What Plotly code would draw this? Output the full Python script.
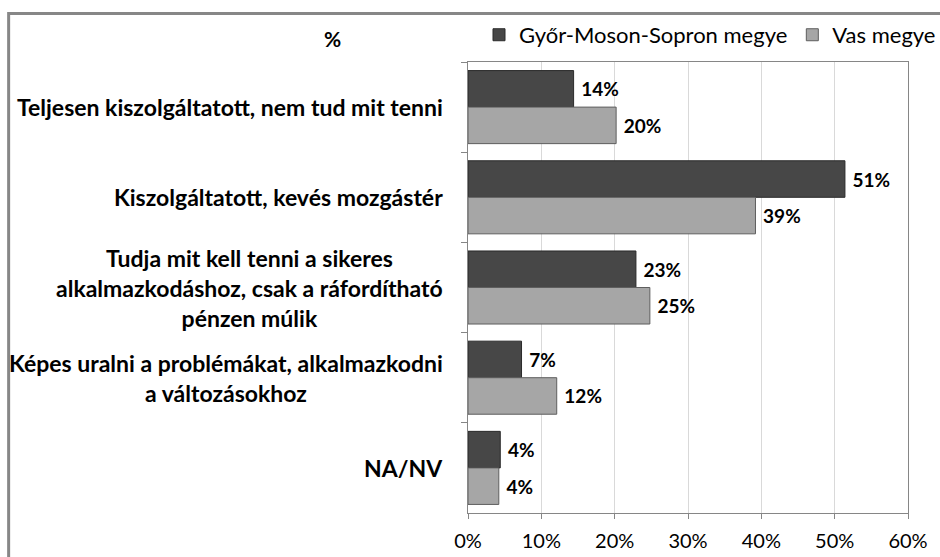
import plotly.graph_objects as go

categories = [
    "Teljesen kiszolgáltatott, nem tud mit tenni",
    "Kiszolgáltatott, kevés mozgástér",
    "Tudja mit kell tenni a sikeres<br>alkalmazkodáshoz, csak a ráfordítható<br>pénzen múlik",
    "Képes uralni a problémákat, alkalmazkodni<br>a változásokhoz",
    "NA/NV",
]
gyor_values = [14.4, 51.4, 22.9, 7.3, 4.4]
vas_values = [20.2, 39.2, 24.8, 12.1, 4.2]
series_names = ["Győr-Moson-Sopron megye", "Vas megye"]
x_ticks = [0, 10, 20, 30, 40, 50, 60]
x_tick_labels = ["0%", "10%", "20%", "30%", "40%", "50%", "60%"]

FONT = "Lato, 'Open Sans', sans-serif"

fig = go.Figure()
fig.add_trace(go.Bar(
    y=categories, x=gyor_values, name=series_names[0], orientation="h",
    marker=dict(color="#474747", line=dict(color="#2a2a2a", width=1)),
    text=[f" {v:.0f}%" for v in gyor_values], textposition="outside",
    textfont=dict(family=FONT, size=19, color="#000000", weight="bold"),
    cliponaxis=False,
))
fig.add_trace(go.Bar(
    y=categories, x=vas_values, name=series_names[1], orientation="h",
    marker=dict(color="#a6a6a6", line=dict(color="#5e5e5e", width=1)),
    text=[f" {v:.0f}%" for v in vas_values], textposition="outside",
    textfont=dict(family=FONT, size=19, color="#000000", weight="bold"),
    cliponaxis=False,
))

for c in categories:
    fig.add_annotation(
        x=-0.052, xref="paper", y=c, yref="y", text=f"<b>{c}</b>",
        showarrow=False, xanchor="right", yanchor="middle", align="center",
        font=dict(family=FONT, size=23, color="#000000"),
    )

fig.add_annotation(
    x=-0.307, xref="paper", y=1.053, yref="paper", text="<b>%</b>",
    showarrow=False, xanchor="center", yanchor="middle",
    font=dict(family=FONT, size=21, color="#000000"),
)

fig.add_shape(
    type="rect", xref="paper", yref="paper",
    x0=-1.044, x1=1.3, y0=-0.3, y1=1.1075,
    line=dict(color="#878787", width=3), layer="below",
)

fig.update_layout(
    width=940, height=557,
    margin=dict(l=468, r=32, t=62, b=44, autoexpand=False),
    paper_bgcolor="white", plot_bgcolor="white",
    barmode="group", bargap=0.19, bargroupgap=0,
    font=dict(family=FONT, size=20, color="#000000"),
    showlegend=True,
    legend=dict(
        orientation="h", x=1.075, xanchor="right", y=1.06, yanchor="middle",
        font=dict(family=FONT, size=22, color="#000000"),
        traceorder="normal", bgcolor="rgba(0,0,0,0)",
        itemwidth=30, tracegroupgap=0,
    ),
    xaxis=dict(
        range=[0, 60], tickvals=x_ticks, ticktext=x_tick_labels,
        showgrid=True, gridcolor="#d9d9d9", gridwidth=1,
        showline=True, linecolor="#868686", linewidth=1, mirror=True,
        ticks="outside", ticklen=5, tickcolor="#868686",
        ticklabelstandoff=5,
        tickfont=dict(family=FONT, size=20, color="#000000"),
        zeroline=False, fixedrange=True,
    ),
    yaxis=dict(
        autorange="reversed", showticklabels=False,
        showline=True, linecolor="#868686", linewidth=1, mirror=True,
        ticks="outside", ticklen=6, tickcolor="#868686", tickson="boundaries",
        showgrid=False, fixedrange=True,
    ),
)

fig.write_html(
    "out.html",
    config={"displayModeBar": False},
    post_script="document.body.style.margin='0';document.body.style.overflow='hidden';",
)
